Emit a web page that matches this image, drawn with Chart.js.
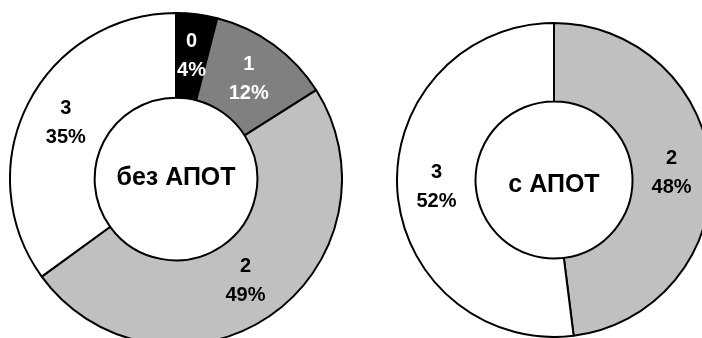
<!DOCTYPE html>
<html>
<head>
<meta charset="utf-8">
<script src="https://cdn.jsdelivr.net/npm/chart.js@4/dist/chart.umd.min.js"></script>
<style>
  html, body { margin: 0; padding: 0; background: #fff; }
  body { width: 702px; height: 338px; overflow: hidden; position: relative; }
  canvas { position: absolute; }
  #left { left: 9px; top: 12px; }
  #right { left: 396px; top: 22px; }
</style>
</head>
<body>
<canvas id="left" width="334" height="334"></canvas>
<canvas id="right" width="316" height="316"></canvas>
<script>
// Grade distribution, per cent
const gradesWithout = ['0', '1', '2', '3'];
const sharesWithout = [4, 12, 49, 35];
const gradesWith = ['2', '3'];
const sharesWith = [48, 52];
const titleWithout = 'без АПОТ';
const titleWith = 'с АПОТ';

const fillByGrade = { '0': '#000000', '1': '#808080', '2': '#c0c0c0', '3': '#ffffff' };
const inkByGrade = { '0': '#ffffff', '1': '#ffffff', '2': '#000000', '3': '#000000' };
const FONT = '"Liberation Sans", Arial, sans-serif';

// Writes "grade / NN%" inside each ring segment and the title in the hole
const ringLabels = {
  id: 'ringLabels',
  afterDatasetsDraw(chart, args, opts) {
    const ctx = chart.ctx;
    const meta = chart.getDatasetMeta(0);
    const labels = chart.data.labels;
    const values = chart.data.datasets[0].data;
    ctx.save();
    ctx.textAlign = 'center';
    ctx.textBaseline = 'alphabetic';
    ctx.font = 'bold 20px ' + FONT;
    meta.data.forEach((arc, i) => {
      const p = arc.getCenterPoint();
      ctx.fillStyle = inkByGrade[labels[i]];
      ctx.fillText(labels[i], p.x, p.y - 9);
      ctx.fillText(values[i] + '%', p.x, p.y + 20);
    });
    const a = meta.data[0];
    ctx.fillStyle = '#000';
    ctx.font = 'bold 25px ' + FONT;
    ctx.fillText(opts.title, a.x, a.y + opts.titleShift);
    ctx.restore();
  }
};

function ring(id, grades, shares, cutout, title, titleShift) {
  return new Chart(document.getElementById(id), {
    type: 'doughnut',
    data: {
      labels: grades,
      datasets: [{
        data: shares,
        backgroundColor: grades.map(g => fillByGrade[g]),
        borderColor: '#000000',
        borderWidth: 2,
        hoverOffset: 0
      }]
    },
    options: {
      responsive: false,
      animation: false,
      cutout: cutout,
      rotation: 0,
      layout: { padding: 0 },
      events: [],
      plugins: {
        legend: { display: false },
        tooltip: { enabled: false },
        ringLabels: { title: title, titleShift: titleShift }
      }
    },
    plugins: [ringLabels]
  });
}

ring('left', gradesWithout, sharesWithout, '49%', titleWithout, 6);
ring('right', gradesWith, sharesWith, '50%', titleWith, 12);
</script>
</body>
</html>
